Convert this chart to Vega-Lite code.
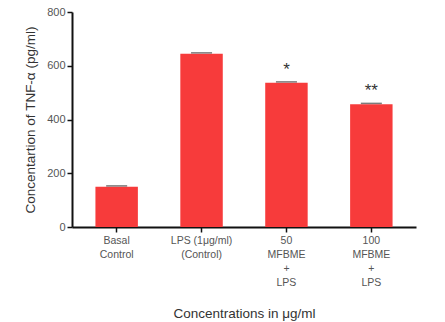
{
  "$schema": "https://vega.github.io/schema/vega-lite/v6.json",
  "autosize": "none",
  "width": 344,
  "height": 215,
  "padding": {"left": 72, "top": 12, "right": 29, "bottom": 95},
  "background": "white",
  "config": {
    "view": {"stroke": null},
    "font": "Liberation Sans",
    "axis": {"grid": false, "domainColor": "#111", "domainWidth": 2, "tickColor": "#111", "tickWidth": 1.5, "labelColor": "#555", "titleColor": "#333", "labelFont": "Liberation Sans", "titleFont": "Liberation Sans", "titleFontWeight": "normal"}
  },
  "data": {
    "values": [
      {"group": "Basal|Control", "value": 150, "err": 3, "sig": ""},
      {"group": "LPS (1μg/ml)|(Control)", "value": 645, "err": 3, "sig": ""},
      {"group": "50|MFBME|+|LPS", "value": 537, "err": 3, "sig": "*"},
      {"group": "100|MFBME|+|LPS", "value": 457, "err": 3, "sig": "**"}
    ]
  },
  "encoding": {
    "x": {
      "field": "group", "type": "nominal", "sort": null,
      "scale": {"paddingInner": 0.5, "paddingOuter": 0.276},
      "axis": {"labelAngle": 0, "labelExpr": "split(datum.label, '|')", "labelFontSize": 10.5, "labelLineHeight": 14, "tickSize": 5, "labelPadding": 3,
        "title": "Concentrations in μg/ml", "titleFontSize": 13.5, "titlePadding": 19}
    }
  },
  "layer": [
    {
      "mark": {"type": "bar", "color": "#f73b3b"},
      "encoding": {
        "y": {"field": "value", "type": "quantitative", "scale": {"domain": [0, 800]},
          "axis": {"values": [0, 200, 400, 600, 800], "labelFontSize": 11, "tickSize": 5, "labelPadding": 2,
            "title": "Concentartion of TNF-α (pg/ml)", "titleFontSize": 13.5, "titlePadding": 9}}
      }
    },
    {
      "transform": [{"calculate": "datum.value + datum.err", "as": "hi"}],
      "mark": {"type": "tick", "color": "#444", "thickness": 1.5, "size": 21},
      "encoding": {"y": {"field": "hi", "type": "quantitative"}}
    },
    {
      "mark": {"type": "text", "fontSize": 17, "color": "#333", "dy": -13, "baseline": "middle"},
      "encoding": {"y": {"field": "value", "type": "quantitative"}, "text": {"field": "sig"}}
    }
  ]
}
